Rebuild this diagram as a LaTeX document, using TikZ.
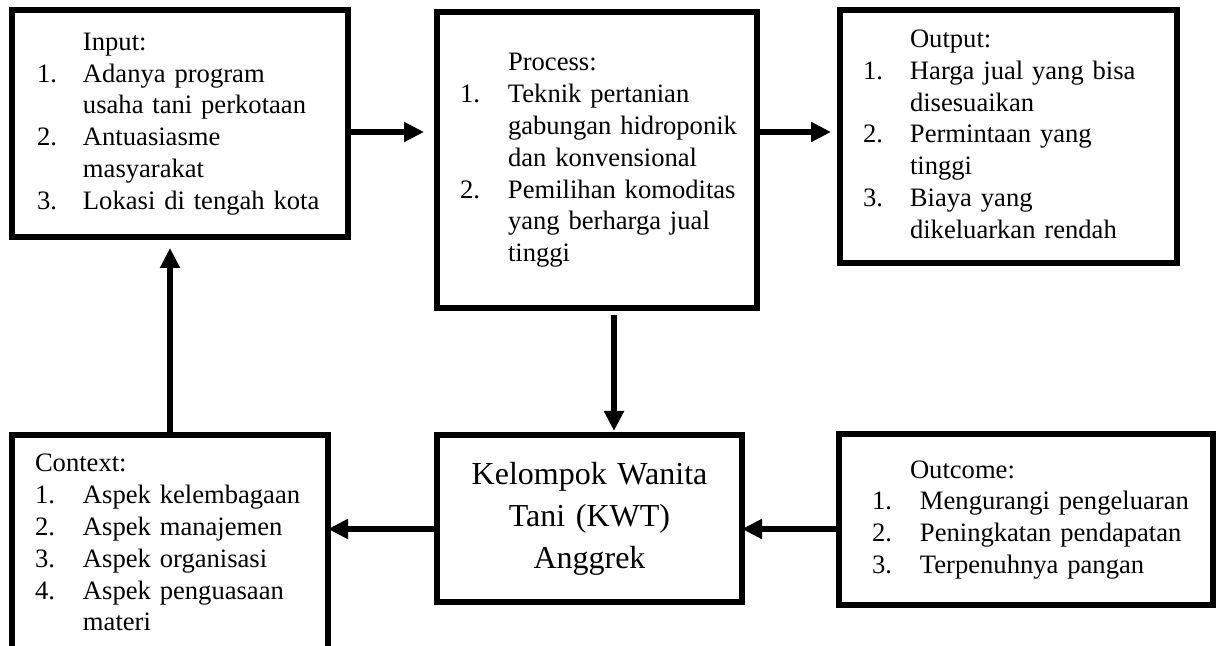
\documentclass[tikz,border=0pt]{standalone}
\usepackage{fontspec}
\setmainfont{Liberation Serif}
\usetikzlibrary{positioning,arrows.meta}

\begin{document}
\begin{tikzpicture}[x=0.5pt,y=-0.5pt,
    kotak/.style={draw, line width=2.8pt, outer sep=0pt, inner xsep=0pt, align=left,
        font=\fontsize{13.3}{15.9}\selectfont},
    panah/.style={-{Triangle[length=10pt,width=9.5pt]}, line width=3.2pt}]
    \useasboundingbox (0,0) rectangle (1221,646);
    \clip (0,0) rectangle (1221,646);

    \node[kotak, text width=168pt, minimum height=113.5pt, anchor=north west] (input) at (12,10)
        {\hspace*{12.5pt}\begin{tabular}{@{}p{23pt}@{}l@{}}
            & Input:\\
        1.  & Adanya program\\
            & usaha tani perkotaan\\
        2.  & Antuasiasme\\
            & masyarakat\\
        3.  & Lokasi di tengah kota
        \end{tabular}};
    \node[kotak, text width=160pt, minimum height=148pt, below right=1pt and 44.5pt of input.north east] (proses)
        {\hspace*{11.5pt}\begin{tabular}{@{}p{24pt}@{}l@{}}
            & Process:\\
        1.  & Teknik pertanian\\
            & gabungan hidroponik\\
            & dan konvensional\\
        2.  & Pemilihan komoditas\\
            & yang berharga jual\\
            & tinggi
        \end{tabular}};
    \node[kotak, text width=168.5pt, minimum height=126.5pt, below right=-1pt and 41.5pt of proses.north east] (output)
        {\hspace*{11.5pt}\begin{tabular}{@{}p{23.5pt}@{}l@{}}
            & Output:\\
        1.  & Harga jual yang bisa\\
            & disesuaikan\\
        2.  & Permintaan yang\\
            & tinggi\\
        3.  & Biaya yang\\
            & dikeluarkan rendah
        \end{tabular}};
    \node[kotak, text width=158pt, minimum height=110pt, below right=99pt and 0pt of input.south west] (konteks)
        {\hspace*{11.5pt}\begin{tabular}{@{}p{24pt}@{}l@{}}
        \multicolumn{2}{@{}l@{}}{Context:}\\
        1.  & Aspek kelembagaan\\
        2.  & Aspek manajemen\\
        3.  & Aspek organisasi\\
        4.  & Aspek penguasaan\\
            & materi
        \end{tabular}};
    \node[kotak, text width=152.5pt, minimum height=83.5pt, align=center, font=\fontsize{16}{21}\selectfont,
        below right=0pt and 54.5pt of konteks.north east] (kwt)
        {Kelompok Wanita\\Tani (KWT)\\Anggrek};
    \node[kotak, text width=187pt, minimum height=85.5pt, below right=-0.5pt and 48.5pt of kwt.north east] (hasil)
        {\hspace*{16.5pt}\begin{tabular}{@{}p{24pt}@{}l@{}}
        \multicolumn{2}{@{\hspace{19pt}}l@{}}{Outcome:}\\
        1.  & Mengurangi pengeluaran\\
        2.  & Peningkatan pendapatan\\
        3.  & Terpenuhnya pangan
        \end{tabular}};

    \draw[panah, shorten >=6.5pt] ([yshift=-4.25pt]input.east) -- ([yshift=-4.25pt]input.east -| proses.west);
    \draw[panah, shorten >=4.5pt] ([yshift=-4.25pt]input.east -| proses.east) -- ([yshift=-4.25pt]input.east -| output.west);
    \draw[panah, shorten <=3.5pt, shorten >=2pt] ([xshift=8.5pt]proses.south) -- ([xshift=8.5pt]proses.south |- kwt.north);
    \draw[panah] ([yshift=-4.75pt]hasil.west) -- ([yshift=-4.75pt]hasil.west -| kwt.east);
    \draw[panah] ([yshift=-4.75pt]hasil.west -| kwt.west) -- ([yshift=-4.75pt]hasil.west -| konteks.east);
    \draw[panah, shorten >=5.5pt] (konteks.north) -- (konteks.north |- input.south);
\end{tikzpicture}
\end{document}
